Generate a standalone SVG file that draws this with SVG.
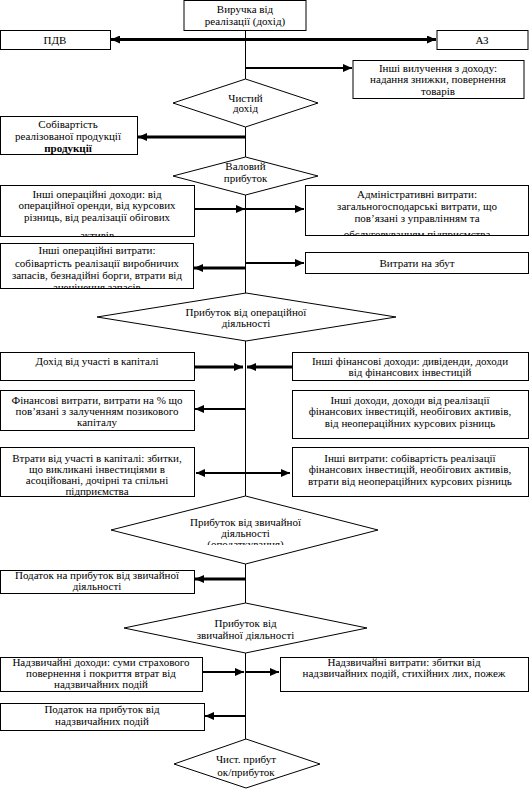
<svg xmlns="http://www.w3.org/2000/svg" width="529" height="790" viewBox="0 0 529 790">
<style>
.box{fill:#fff;stroke:#000;stroke-width:1}
.dia{fill:#fff;stroke:#000;stroke-width:1}
text{font-family:"Times New Roman","Liberation Serif",Times,serif;font-size:11px;fill:#000;text-anchor:middle}
.b{font-weight:bold}
.ln{stroke:#000;stroke-width:1;fill:none}
.a1{stroke:#000;stroke-width:1.8;fill:none;marker-end:url(#ah)}
.a2{stroke:#000;stroke-width:2.8;fill:none;marker-end:url(#ah)}
.dbl{marker-start:url(#ah)}
</style>
<defs>
<marker id="ah" markerUnits="userSpaceOnUse" markerWidth="10" markerHeight="8" refX="9" refY="4" orient="auto-start-reverse"><path d="M0,0 L9,4 L0,8 z" fill="#000"/></marker>
<clipPath id="c5"><rect x="0" y="116" width="137" height="38"/></clipPath>
<clipPath id="c7"><rect x="0" y="185" width="194" height="51"/></clipPath>
<clipPath id="c8"><rect x="305" y="185" width="224" height="50"/></clipPath>
<clipPath id="c9"><rect x="0" y="243" width="193" height="45"/></clipPath>
<clipPath id="c16"><rect x="0" y="447" width="194" height="49"/></clipPath>
<clipPath id="c18"><rect x="100" y="496" width="290" height="49"/></clipPath>
</defs>
<g id="connectors">
<line class="ln" x1="245.5" y1="30" x2="245.5" y2="79"/>
<line class="ln" x1="245.5" y1="127" x2="245.5" y2="157"/>
<line class="ln" x1="245.5" y1="195" x2="245.5" y2="293"/>
<line class="ln" x1="245.5" y1="341" x2="245.5" y2="496"/>
<line class="ln" x1="245.5" y1="564" x2="245.5" y2="603"/>
<line class="ln" x1="245.5" y1="653" x2="245.5" y2="739"/>
<line class="a2 dbl" x1="111" y1="39.5" x2="436" y2="39.5"/>
<line class="a1" x1="245.5" y1="68" x2="352" y2="68"/>
<line class="a2" x1="245.5" y1="137" x2="138" y2="137"/>
<line class="a1" x1="194" y1="209" x2="245" y2="209"/>
<line class="a1" x1="245.5" y1="209" x2="304" y2="209"/>
<line class="a2" x1="245.5" y1="268" x2="194" y2="268"/>
<line class="a1" x1="245.5" y1="263" x2="304" y2="263"/>
<line class="a2" x1="194" y1="367" x2="243" y2="367"/>
<line class="a2" x1="292" y1="367" x2="247" y2="367"/>
<line class="a1" x1="245.5" y1="409" x2="195" y2="409"/>
<line class="a1 dbl" x1="196" y1="473" x2="290" y2="473"/>
<line class="a2" x1="245.5" y1="579" x2="195" y2="579"/>
<line class="a1" x1="202" y1="672" x2="244" y2="672"/>
<line class="a1" x1="245.5" y1="672" x2="279" y2="672"/>
<line class="a1" x1="245.5" y1="716" x2="205" y2="716"/>
</g>
<g id="n1"><rect class="box" x="184" y="0.5" width="122" height="30"/><text x="245" y="12.5">Виручка від</text><text x="245" y="25">реалізації (дохід)</text></g>
<g id="n2"><rect class="box" x="0.5" y="30.5" width="110" height="19"/><text x="55" y="43.5">ПДВ</text></g>
<g id="n3"><rect class="box" x="437" y="30.5" width="91" height="19"/><text x="482" y="43.5">АЗ</text></g>
<g id="n4"><rect class="box" x="353" y="60.5" width="171" height="38"/><text x="438" y="71.5">Інші вилучення з доходу:</text><text x="438" y="83">надання знижки, повернення</text><text x="438" y="94.5">товарів</text></g>
<g id="n5"><polygon class="dia" points="245.5,79 318,103 245.5,127 173,103"/><text x="245.5" y="101.5">Чистий</text><text x="245.5" y="112">дохід</text></g>
<g id="n6"><rect class="box" x="0.5" y="116.5" width="137" height="38"/><g clip-path="url(#c5)"><text x="68" y="128">Собівартість</text><text x="68" y="140">реалізованої продукції</text><text class="b" x="68" y="152">продукції</text></g></g>
<g id="n7"><polygon class="dia" points="245.5,157 318,176 245.5,195 173,176"/><text x="245.5" y="169.5">Валовий</text><text x="245.5" y="182">прибуток</text></g>
<g id="n8"><rect class="box" x="0.5" y="185.5" width="194" height="51"/><g clip-path="url(#c7)"><text x="97" y="197.5">Інші операційні доходи: від</text><text x="97" y="209">операційної оренди, від курсових</text><text x="97" y="220.5">різниць, від реалізації обігових</text><text x="97" y="239">активів</text></g></g>
<g id="n9"><rect class="box" x="305.5" y="185.5" width="223" height="50"/><g clip-path="url(#c8)"><text x="417" y="198">Адміністративні витрати:</text><text x="417" y="210">загальногосподарські витрати, що</text><text x="417" y="221.5">пов’язані з управлінням та</text><text x="417" y="238">обслуговуванням підприємства</text></g></g>
<g id="n10"><rect class="box" x="0.5" y="243.5" width="193" height="45"/><g clip-path="url(#c9)"><text x="97" y="254">Інші операційні витрати:</text><text x="97" y="266.5">собівартість реалізації виробничих</text><text x="97" y="279">запасів, безнадійні борги, втрати від</text><text x="97" y="291">знецінення запасів</text></g></g>
<g id="n11"><rect class="box" x="305.5" y="252.5" width="223" height="21"/><text x="417" y="266.5">Витрати на збут</text></g>
<g id="n12"><polygon class="dia" points="246,293 396,317 246,341 97,317"/><text x="246" y="315.5">Прибуток від операційної</text><text x="246" y="327">діяльності</text></g>
<g id="n13"><rect class="box" x="0.5" y="352.5" width="194" height="28"/><text x="97" y="364.5">Дохід від участі в капіталі</text></g>
<g id="n14"><rect class="box" x="292.5" y="352.5" width="236" height="28"/><text x="410" y="364.5">Інші фінансові доходи: дивіденди, доходи</text><text x="410" y="376">від фінансових інвестицій</text></g>
<g id="n15"><rect class="box" x="0.5" y="390.5" width="194" height="40"/><text x="97" y="403.5">Фінансові витрати, витрати на % що</text><text x="97" y="414.5">пов’язані з залученням позикового</text><text x="97" y="425.5">капіталу</text></g>
<g id="n16"><rect class="box" x="292.5" y="390.5" width="236" height="48"/><text x="410" y="403.5">Інші доходи, доходи від реалізації</text><text x="410" y="415">фінансових інвестицій, необігових активів,</text><text x="410" y="426.5">від неопераційних курсових різниць</text></g>
<g id="n17"><rect class="box" x="0.5" y="447.5" width="194" height="49"/><g clip-path="url(#c16)"><text x="97" y="461.5">Втрати від участі в капіталі: збитки,</text><text x="97" y="472.5">що викликані інвестиціями в</text><text x="97" y="483.5">асоційовані, дочірні та спільні</text><text x="97" y="494.5">підприємства</text></g></g>
<g id="n18"><rect class="box" x="292.5" y="447.5" width="236" height="49"/><text x="410" y="461.5">Інші витрати: собівартість реалізації</text><text x="410" y="473">фінансових інвестицій, необігових активів,</text><text x="410" y="484.5">втрати від неопераційних курсових різниць</text></g>
<g id="n19"><polygon class="dia" points="245.5,496 378,530 245.5,564 111,530"/><g clip-path="url(#c18)"><text x="245.5" y="525.5">Прибуток від звичайної</text><text x="245.5" y="536.5">діяльності</text><text x="245.5" y="547.5">(оподаткування)</text></g></g>
<g id="n20"><rect class="box" x="0.5" y="570.5" width="194" height="23"/><text x="97" y="578.5">Податок на прибуток від звичайної</text><text x="97" y="590">діяльності</text></g>
<g id="n21"><polygon class="dia" points="245.5,603 367,628 245.5,653 124,628"/><text x="245.5" y="626.5">Прибуток від</text><text x="245.5" y="639">звичайної діяльності</text></g>
<g id="n22"><rect class="box" x="0.5" y="657.5" width="202" height="34"/><text x="101" y="665.5">Надзвичайні доходи: суми страхового</text><text x="101" y="676.5">повернення і покриття втрат від</text><text x="101" y="687.5">надзвичайних подій</text></g>
<g id="n23"><rect class="box" x="280.5" y="657.5" width="248" height="34"/><text x="404" y="665.5">Надзвичайні витрати: збитки від</text><text x="404" y="676.5">надзвичайних подій, стихійних лих, пожеж</text></g>
<g id="n24"><rect class="box" x="0.5" y="703.5" width="204" height="27"/><text x="102" y="713">Податок на прибуток від</text><text x="102" y="725">надзвичайних подій</text></g>
<g id="n25"><polygon class="dia" points="246,739 320,764 246,788 174,764"/><text x="246" y="762.5">Чист. прибут</text><text x="246" y="775.5">ок/прибуток</text></g>
</svg>
